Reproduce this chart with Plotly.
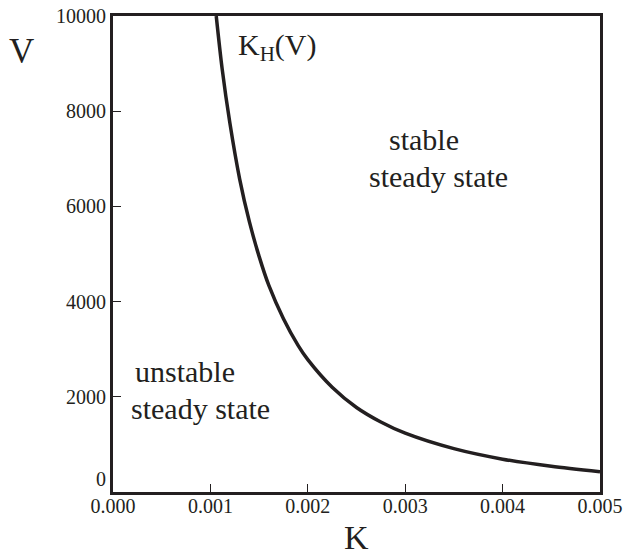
import plotly.graph_objects as go

# K_H(V) curve, values
K_vals = [0.00106, 0.00112, 0.00120, 0.00130, 0.00140, 0.00150, 0.00160, 0.00175, 0.00190,
          0.00200, 0.00225, 0.00250, 0.00275, 0.00300, 0.00350, 0.00400, 0.00450, 0.00500]
V_vals = [10000, 8900, 7750, 6580, 5680, 4950, 4340, 3640, 3080,
          2780, 2200, 1775, 1470, 1235, 910, 690, 540, 425]

x_ticks = [0.000, 0.001, 0.002, 0.003, 0.004, 0.005]
y_ticks = [0, 2000, 4000, 6000, 8000, 10000]
y_tick_labels = ["0", "2000", "4000", "6000", "8000", "10000"]

INK = "#231f20"
FONT = "Liberation Serif, Times New Roman, Times, serif"

fig = go.Figure()
fig.add_trace(go.Scatter(x=K_vals, y=V_vals, mode="lines",
                         line=dict(color=INK, width=3.5, shape="spline", smoothing=0.8),
                         showlegend=False, hoverinfo="skip"))

axis_common = dict(showgrid=False, zeroline=False, showline=True, linewidth=3,
                   linecolor=INK, mirror=True, ticks="inside", ticklen=8,
                   tickwidth=1, tickcolor=INK,
                   tickfont=dict(family=FONT, size=20, color=INK))

fig.update_xaxes(range=[0, 0.005], tickvals=x_ticks, tickformat=".3f",
                 ticklabelstandoff=-6, **axis_common)
# the "0" label sits a little above its tick in the reference, clear of "0.000"
y_text = [t + "<br> " if t == "0" else t for t in y_tick_labels]
fig.update_yaxes(range=[0, 10000], tickvals=y_ticks, ticktext=y_text, **axis_common)

W, H = 624, 558
ML, MR, MT, MB = 113, 24, 15.5, 66
pw, ph = W - ML - MR, H - MT - MB


def page_ann(px, py, text, size):
    # place text by page pixel position (converted to plot-area paper coords)
    return dict(x=(px - ML) / pw, y=1 - (py - MT) / ph, text=text,
                xref="paper", yref="paper", showarrow=False,
                xanchor="center", yanchor="middle",
                font=dict(family=FONT, size=size, color=INK))


annotations = [
    page_ann(21.5, 51.5, "V", 35),
    page_ann(356, 538, "K", 34),
    page_ann(277, 47, "K<sub>H</sub>(V)", 30),
    page_ann(424, 139, "stable", 30),
    page_ann(438, 176, "steady state", 30),
    page_ann(185, 371, "unstable", 30),
    page_ann(200, 408, "steady state", 30),
]

fig.update_layout(
    width=W, height=H,
    margin=dict(l=ML, r=MR, t=MT, b=MB, autoexpand=False),
    paper_bgcolor="white", plot_bgcolor="white",
    annotations=annotations,
)

fig.write_html("out.html")
